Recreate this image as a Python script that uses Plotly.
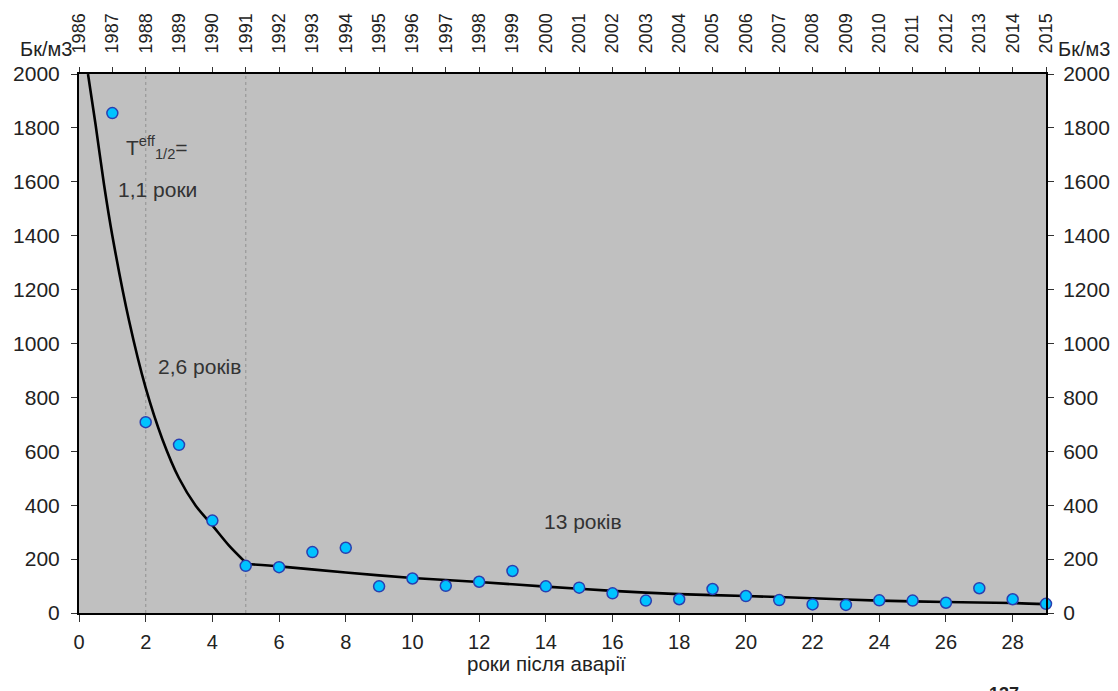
import plotly.graph_objects as go

# ---- data ----
years_after = list(range(1, 30))
activity = [1855, 708, 624, 343, 175, 170, 226, 242, 99, 128, 101, 116, 156,
            99, 94, 73, 46, 51, 89, 63, 48, 32, 30, 47, 46, 38, 92, 51, 34]

# fitted curve, first period (T1/2 eff = 1.1 / 2.6 years)
fit1_x = [0.27, 0.5, 0.75, 1.0, 1.5, 2.0, 2.5, 3.0, 3.5, 4.0, 4.5, 5.0]
fit1_y = [2000, 1810, 1590, 1400, 1085, 835, 645, 500, 398, 325, 250, 187]
# fitted curve, second period (T1/2 eff = 13 years)
fit2_x = [5.0, 6, 8, 10, 12, 14, 16, 18, 20, 22, 24, 26, 28, 29]
fit2_y = [182, 173, 150, 130, 115, 98, 82, 70, 63, 55, 46, 41, 37, 33]

calendar_years = [str(y) for y in range(1986, 2016)]
top_tick_pos = list(range(0, 30))
bottom_ticks = list(range(0, 30, 2))
y_ticks = list(range(0, 2001, 200))
period_breaks = [2, 5]

FONT = "Liberation Sans, Arial, sans-serif"
TXT = "#222222"

fig = go.Figure()

for xb in period_breaks:
    fig.add_trace(go.Scatter(x=[xb, xb], y=[0, 2000], mode="lines",
                             line=dict(color="#9c9c9c", width=1.3, dash="3px,3px"),
                             hoverinfo="skip", showlegend=False))

fig.add_trace(go.Scatter(x=fit1_x, y=fit1_y, mode="lines",
                         line=dict(color="black", width=2.6, shape="spline", smoothing=0.8),
                         showlegend=False))
fig.add_trace(go.Scatter(x=fit2_x, y=fit2_y, mode="lines",
                         line=dict(color="black", width=2.6, shape="spline", smoothing=0.8),
                         showlegend=False))

fig.add_trace(go.Scatter(x=years_after, y=activity, mode="markers",
                         marker=dict(size=11, color="#00c3ff",
                                     line=dict(color="#2a3fb0", width=1.5)),
                         cliponaxis=False, showlegend=False))

# invisible trace for the top axis
fig.add_trace(go.Scatter(x=[0, 29], y=[0, 0], xaxis="x2", mode="markers",
                         marker=dict(opacity=0), hoverinfo="skip", showlegend=False))
# invisible trace for the right axis
fig.add_trace(go.Scatter(x=[0, 29], y=[0, 0], yaxis="y2", mode="markers",
                         marker=dict(opacity=0), hoverinfo="skip", showlegend=False))

xtickfont = dict(family=FONT, size=20, color=TXT)
ytickfont = dict(family=FONT, size=21, color=TXT)

# the page body has an 8px margin, so the figure is slightly smaller than the window
fig.update_layout(
    width=1110, height=683,
    margin=dict(l=71, r=72, t=66, b=78, autoexpand=False),
    paper_bgcolor="white",
    plot_bgcolor="#c0c0c0",
    font=dict(family=FONT, color=TXT),
    xaxis=dict(range=[0, 29], tickvals=bottom_ticks, showgrid=False, zeroline=False,
               showline=True, linecolor="black", linewidth=2, automargin=False,
               ticks="outside", ticklen=7, tickcolor="#333", tickwidth=1.2,
               tickfont=xtickfont, ticklabelstandoff=3),
    xaxis2=dict(range=[0, 29], overlaying="x", side="top", tickvals=top_tick_pos,
                ticktext=calendar_years, tickangle=-90, showgrid=False, zeroline=False,
                showline=True, linecolor="black", linewidth=2, automargin=False,
                ticks="outside", ticklen=5, tickcolor="#333", tickwidth=1.2,
                tickfont=dict(family=FONT, size=18, color=TXT), ticklabelstandoff=10),
    yaxis=dict(range=[0, 2000], tickvals=y_ticks, showgrid=False, zeroline=False,
               showline=True, linecolor="black", linewidth=2, automargin=False,
               ticks="outside", ticklen=6, tickcolor="#333", tickwidth=1.2,
               tickfont=ytickfont, ticklabelstandoff=7),
    yaxis2=dict(range=[0, 2000], overlaying="y", side="right", tickvals=y_ticks,
                showgrid=False, zeroline=False, automargin=False,
                showline=True, linecolor="black", linewidth=2,
                ticks="outside", ticklen=6, tickcolor="#333", tickwidth=1.2,
                tickfont=ytickfont, ticklabelstandoff=5),
)

ann_font = dict(family=FONT, size=21, color="#333333")
annotations = [
    dict(x=2.35, y=1726, text="T<sup>eff</sup><sub>1/2</sub>=", xref="x", yref="y"),
    dict(x=2.35, y=1570, text="1,1 роки", xref="x", yref="y"),
    dict(x=3.61, y=915, text="2,6 років", xref="x", yref="y"),
    dict(x=15.1, y=339, text="13 років", xref="x", yref="y"),
]
for a in annotations:
    fig.add_annotation(showarrow=False, font=ann_font, **a)

fig.add_annotation(x=14.03, y=-0.0935, xref="x", yref="paper", text="роки після аварії",
                   yanchor="middle", showarrow=False, font=dict(family=FONT, size=20.5, color=TXT))
fig.add_annotation(x=-0.005, y=1.046, xref="paper", yref="paper", text="Бк/м3",
                   xanchor="right", yanchor="middle", showarrow=False,
                   font=dict(family=FONT, size=20, color=TXT))
fig.add_annotation(x=1.01, y=1.046, xref="paper", yref="paper", text="Бк/м3",
                   xanchor="left", yanchor="middle", showarrow=False,
                   font=dict(family=FONT, size=20, color=TXT))
fig.add_annotation(x=27.74, y=-0.128, xref="x", yref="paper", text="<b>137</b>",
                   yanchor="top", showarrow=False, font=dict(family=FONT, size=18, color=TXT))

fig.write_html("out.html")
